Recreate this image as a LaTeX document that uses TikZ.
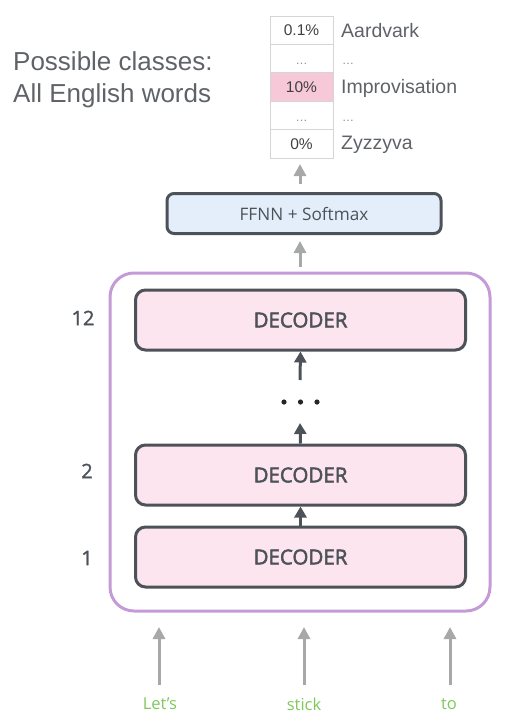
\documentclass[tikz,border=0pt]{standalone}
\usepackage{fontspec}
\setmainfont{Liberation Sans}
\newfontfamily\osfont{Open Sans}
\newfontfamily\ossemi[FakeBold=2.5]{Open Sans}
\newfontfamily\osmed[FakeBold=1.5]{Open Sans}
\usetikzlibrary{arrows.meta}
\definecolor{txtgray}{HTML}{4D5259}
\definecolor{lightgray}{HTML}{5F6368}
\definecolor{arrgray}{HTML}{A6A9A8}
\definecolor{boxpink}{HTML}{FCE5EF}
\definecolor{boxblue}{HTML}{E3EEFA}
\definecolor{purp}{HTML}{C49BD6}
\definecolor{cellpink}{HTML}{F7C9D8}
\definecolor{cellline}{HTML}{D5D5D5}
\definecolor{wordgreen}{HTML}{7DC85B}
\tikzset{
  decbox/.style={draw=txtgray, line width=3pt, fill=boxpink, rounded corners=10pt,
     minimum width=330pt, minimum height=60pt, inner sep=0pt,
     text=txtgray, font=\ossemi\fontsize{20.5}{22}\selectfont},
  ffbox/.style={draw=txtgray, line width=3pt, fill=boxblue, rounded corners=7pt,
     minimum width=274pt, minimum height=40pt, inner sep=0pt,
     text=txtgray, font=\osfont\fontsize{17.2}{19}\selectfont},
  cell/.style={draw=cellline, line width=1pt, minimum width=63pt, minimum height=28.4pt,
     inner sep=0pt, text=black!75, font=\fontsize{15.5}{17}\selectfont},
  clabel/.style={anchor=west, inner sep=0pt, text=lightgray, font=\fontsize{19.5}{21}\selectfont},
  dotlab/.style={inner sep=0pt, text=black!45, font=\fontsize{12}{12}\selectfont},
  grayarr/.style={draw=arrgray, line width=3pt, -{Triangle[width=12pt,length=12pt]}},
  darkarr/.style={draw=txtgray, line width=3pt, -{Triangle[width=12pt,length=11pt]}},
  numlab/.style={text=txtgray, font=\osmed\fontsize{20}{22}\selectfont},
  word/.style={text=wordgreen, font=\osfont\fontsize{16.5}{18}\selectfont},
}
\begin{document}
\begin{tikzpicture}[x=1pt,y=-1pt]
\useasboundingbox (0,0) rectangle (516,726);
% title
\node[anchor=west, inner sep=0pt, text=lightgray, font=\fontsize{26}{30}\selectfont, align=left] (title) at (13,80)
  {Possible classes:\\[2pt]All English words};
% table
\node[cell] (c1) at (301.5,30.2) {0.1\%};
\node[cell] (c2) at (301.5,58.6) {};
\node[cell, fill=cellpink] (c3) at (301.5,87) {10\%};
\node[cell] (c4) at (301.5,115.4) {};
\node[cell] (c5) at (301.5,143.8) {0\%};
\node[dotlab, anchor=base] (c2t) at (301.5,64.5) {\dots};
\node[dotlab, anchor=base] (c4t) at (301.5,121.3) {\dots};
\node[clabel] (l1) at (341,31) {Aardvark};
\node[dotlab, anchor=base west] (l2) at (342,64.5) {\dots};
\node[clabel] (l3) at (341,88) {Improvisation};
\node[dotlab, anchor=base west] (l4) at (342,121.3) {\dots};
\node[clabel] (l5) at (341,145) {Zyzzyva};
% FFNN
\node[ffbox] (ff) at (304,213.5) {FFNN + Softmax};
\coordinate (a1s) at (300,184);
\coordinate (a1e) at (300,164);
\draw[grayarr] (a1s) -- (a1e);
\coordinate (a2s) at (300,267);
\coordinate (a2e) at (300,241);
\draw[grayarr] (a2s) -- (a2e);
% outer purple box
\draw[purp, line width=3pt, rounded corners=24pt] (110,273) rectangle (490,611);
% decoders
\node[decbox] (d12) at (300.5,320) {DECODER};
\node[decbox] (d2) at (300.5,475) {DECODER};
\node[decbox] (d1) at (300.5,557) {DECODER};
\coordinate (b1s) at (300,380);
\draw[darkarr] (b1s) -- (d12.south);
\coordinate (b2s) at (300,445);
\coordinate (b2e) at (300,423);
\draw[darkarr] (d2.north) -- (b2e);
\draw[darkarr] (d1.north) -- (d2.south);
% dots
\fill[black!85] (284,402) circle (2.6pt) (300.5,402) circle (2.6pt) (317,402) circle (2.6pt);
% layer numbers
\node[numlab] (n12) at (83,318) {12};
\node[numlab] (n2) at (87,471) {2};
\node[numlab] (n1) at (87,558) {1};
% inputs
\node[word] (w1) at (160,704) {Let’s};
\node[word] (w2) at (304,704) {stick};
\node[word] (w3) at (449,704) {to};
\coordinate (i1) at (159,627);
\coordinate (i2) at (304,627);
\coordinate (i3) at (450,627);
\draw[grayarr] (159,685) -- (i1);
\draw[grayarr] (304,685) -- (i2);
\draw[grayarr] (450,685) -- (i3);
\end{tikzpicture}
\end{document}
